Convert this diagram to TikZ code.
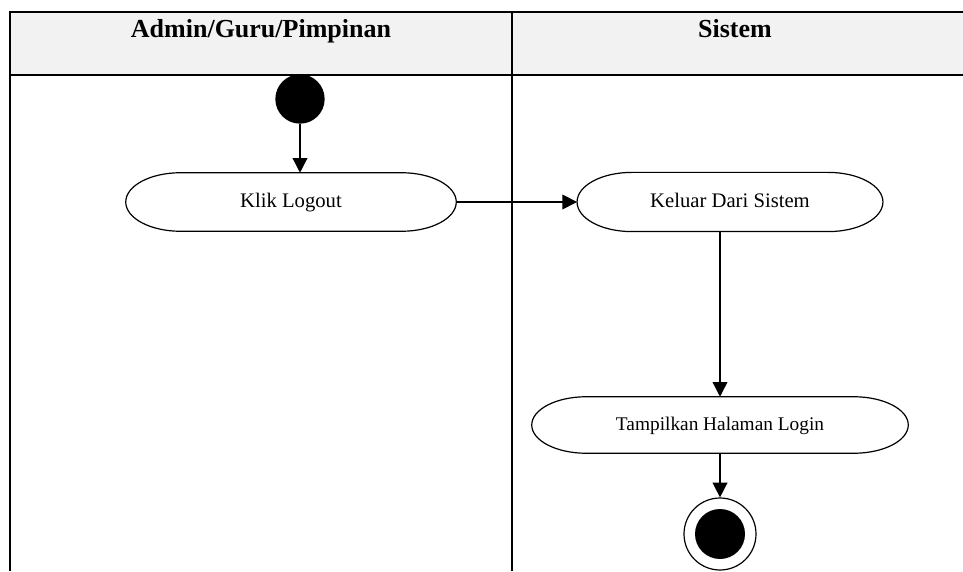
\documentclass[tikz,border=0pt]{standalone}
\usepackage{fontspec}
\setmainfont{Liberation Serif}
\usetikzlibrary{arrows.meta,calc}
\definecolor{headgray}{HTML}{F2F2F2}
\tikzset{
  lane/.style={line width=1.3pt},
  lanetitle/.style={anchor=base,font=\fontsize{19.5}{22}\selectfont\bfseries},
  action/.style={inner sep=0pt,text height=0.9em,text depth=0.1em,font=\fontsize{15.5}{18}\selectfont},
  flow/.style={line width=1.1pt,-{Triangle[length=11pt,width=11pt]}},
}

\begin{document}
\begin{tikzpicture}[x=0.75pt,y=0.75pt]
\useasboundingbox (0,0) rectangle (963,571);
% swimlanes
\fill[headgray] (10,496) rectangle (963,559);
\draw[lane] (10,0) -- (10,559) -- (963,559);
\draw[lane] (10,496) -- (963,496);
\draw[lane] (512,0) -- (512,559);
\node[lanetitle] (lane1) at (261,533) {Admin/Guru/Pimpinan};
\node[lanetitle] (lane2) at (735,533) {Sistem};

% activities
\node[circle,fill=black,minimum size=37pt,inner sep=0pt] (start) at (300,472) {};
\node[action,minimum width=247.5pt,minimum height=43.5pt] (klik) at (291,369) {Klik Logout};
\node[action,minimum width=229pt,minimum height=44pt] (keluar) at (730,369) {Keluar Dari Sistem};
\node[action,font=\fontsize{14.5}{17}\selectfont,minimum width=282pt,minimum height=42pt] (tampil) at (720,146) {Tampilkan Halaman Login};
\node[circle,draw,line width=0.9pt,minimum size=54pt,inner sep=0pt] (end) at (720,37) {};
\node[circle,fill=black,minimum size=37.5pt,inner sep=0pt] (endin) at (end) {};

\foreach \act in {klik,keluar,tampil}
  \draw[line width=0.9pt] let \p1=(\act.north west), \p2=(\act.south east), \n1={(\y1-\y2)/2} in
    (\x1+41pt,\y1) -- (\x2-41pt,\y1) arc[start angle=90,end angle=-90,x radius=41pt,y radius={\n1*1pt}]
    -- (\x1+41pt,\y2) arc[start angle=270,end angle=90,x radius=41pt,y radius={\n1*1pt}] -- cycle;

% transitions
\draw[flow] (start) -- (start |- klik.north);
\draw[flow] (klik.east) -- (keluar.west);
\draw[flow] (tampil.north |- keluar.south) -- (tampil.north);
\draw[flow] (tampil.south) -- (end.north);
\end{tikzpicture}
\end{document}
